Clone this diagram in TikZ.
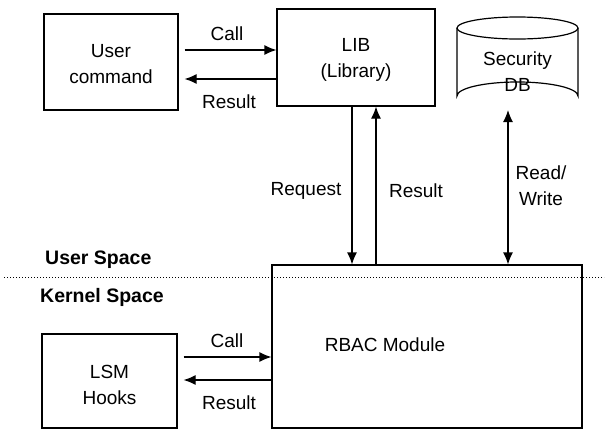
\documentclass[tikz,border=0pt]{standalone}
\usepackage{fontspec}
\setmainfont{Liberation Sans}
\usetikzlibrary{arrows.meta}
\begin{document}
\begin{tikzpicture}[x=1pt,y=-1pt,
  box/.style={draw,line width=1.2pt,inner sep=0pt},
  lbl/.style={font=\fontsize{19}{26}\selectfont,align=center,inner sep=0pt},
  bold/.style={font=\fontsize{19.5}{22}\selectfont\bfseries,inner sep=0pt},
  conn/.style={line width=1.2pt,-{Latex[length=12pt,width=10pt]}},
  conn2/.style={line width=1.2pt,{Latex[length=12pt,width=10pt]}-{Latex[length=12pt,width=10pt]}}]
\useasboundingbox (0,0) rectangle (608,429);
% boxes
\node[box,minimum width=134,minimum height=96] (uc) at (111,62) {};
\node[lbl] (uct) at (111,64) {User\\command};
\node[box,minimum width=158,minimum height=97] (lib) at (356,57.5) {};
\node[lbl] (libt) at (356,60) {LIB\\(Library)};
\node[box,minimum width=135,minimum height=94] (lsm) at (109.5,381) {};
\node[lbl] (lsmt) at (109.5,385) {LSM\\Hooks};
\node[box,minimum width=310,minimum height=163] (rbac) at (427,346.5) {};
\node[lbl] (rbact) at (385,345) {RBAC Module};
% cylinder
\draw[line width=1.2pt] (517.5,28) ellipse [x radius=60.5,y radius=11];
\draw[line width=1.2pt] (457,28) -- (457,96) arc[start angle=180,end angle=360,x radius=60.5,y radius=14] -- (578,28);
\node[lbl] (dbt) at (517.5,72) {Security\\DB};
\coordinate (dbb) at (508,110);
% separator
\draw[line width=1pt,dotted] (4,277) -- (604,277);
\node[bold,anchor=west] (us) at (45,260) {User Space};
\node[bold,anchor=west] (ks) at (40,297) {Kernel Space};
% connectors top
\draw[conn] (uc.east |- 0,50) ++(6,0) coordinate (a1) -- (lib.west |- a1);
\draw[conn] (lib.west |- 0,79) -- ([xshift=6pt]uc.east |- 0,79);
\node[lbl] (c1) at (227,34) {Call};
\node[lbl] (r1) at (229,102) {Result};
% LIB <-> RBAC
\draw[conn] (lib.south -| 352,0) -- (rbac.north -| 352,0);
\draw[conn] (rbac.north -| 376,0) -- (lib.south -| 376,0);
\node[lbl] (rq) at (306,191) {Request};
\node[lbl] (rs) at (416,191) {Result};
% DB <-> RBAC
\draw[conn2] (dbb) -- (rbac.north -| dbb);
\node[lbl] (rw) at (541,186) {Read/\\Write};
% LSM <-> RBAC
\draw[conn] ([xshift=6pt]lsm.east |- 0,357) -- (rbac.west |- 0,357);
\draw[conn] (rbac.west |- 0,380) -- ([xshift=6pt]lsm.east |- 0,380);
\node[lbl] (c2) at (227,341) {Call};
\node[lbl] (r2) at (229,403) {Result};
\end{tikzpicture}
\end{document}
